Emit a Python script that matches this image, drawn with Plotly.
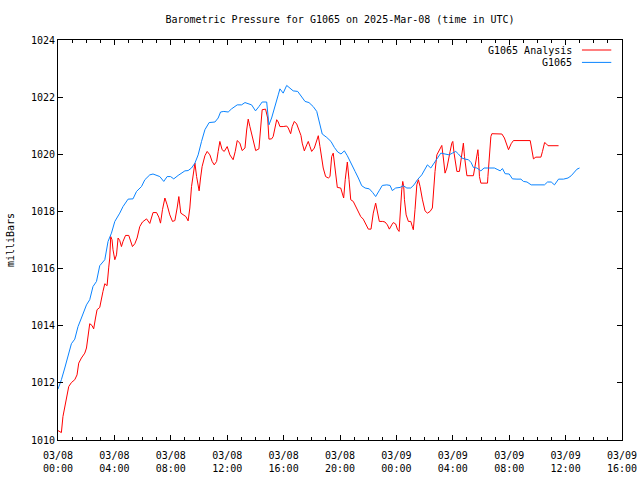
import pandas as pd
import plotly.graph_objects as go

# Hours after 2025-03-08 00:00 UTC and pressure (mb)
analysis_hours = [0.00, 0.24, 0.35, 0.48, 0.60, 0.76, 0.95, 1.19, 1.35, 1.47, 1.66, 1.90, 2.02, 2.13, 2.25, 2.41, 2.53, 2.66, 2.77, 2.96,
                  3.08, 3.19, 3.32, 3.48, 3.60, 3.67, 3.74, 3.83, 3.90, 4.03, 4.15, 4.26, 4.38, 4.50, 4.61, 4.79, 5.02, 5.16, 5.28, 5.45,
                  5.61, 5.80, 5.99, 6.28, 6.51, 6.74, 6.99, 7.15, 7.27, 7.41, 7.58, 7.74, 7.93, 8.12, 8.29, 8.45, 8.57, 8.71, 8.87, 9.07,
                  9.23, 9.35, 9.47, 9.58, 9.71, 9.83, 9.94, 10.01, 10.11, 10.22, 10.42, 10.58, 10.77, 10.93, 11.08, 11.25, 11.36, 11.48, 11.64, 11.79,
                  12.00, 12.19, 12.42, 12.57, 12.71, 12.90, 13.06, 13.26, 13.38, 13.49, 13.61, 13.77, 14.02, 14.25, 14.37, 14.48, 14.72, 14.87, 14.96, 15.15,
                  15.26, 15.39, 15.51, 15.62, 15.74, 15.97, 16.22, 16.33, 16.50, 16.61, 16.76, 16.93, 17.09, 17.23, 17.32, 17.47, 17.64, 17.75, 17.87, 17.99,
                  18.18, 18.35, 18.46, 18.58, 18.70, 18.81, 18.98, 19.17, 19.29, 19.41, 19.52, 19.60, 19.69, 19.81, 20.05, 20.19, 20.26, 20.37, 20.52, 20.64,
                  20.76, 20.94, 21.11, 21.30, 21.47, 21.65, 21.85, 22.01, 22.20, 22.36, 22.53, 22.65, 22.79, 23.03, 23.19, 23.36, 23.50, 23.67, 23.78, 23.95,
                  24.07, 24.19, 24.26, 24.38, 24.45, 24.52, 24.57, 24.69, 24.85, 25.02, 25.13, 25.20, 25.32, 25.45, 25.56, 25.68, 25.84, 26.03, 26.20, 26.39,
                  26.55, 26.62, 26.74, 26.87, 27.05, 27.22, 27.33, 27.45, 27.58, 27.69, 27.81, 27.93, 28.00, 28.09, 28.21, 28.29, 28.47, 28.57, 28.68, 28.75,
                  28.83, 28.92, 29.00, 29.46, 29.58, 29.71, 29.78, 29.82, 29.89, 29.99, 30.46, 30.49, 30.60, 30.70, 30.77, 31.48, 31.66, 31.84, 31.95, 32.14,
                  32.30, 33.49, 33.61, 33.72, 33.89, 34.25, 34.36, 34.51, 34.63, 34.75, 35.50]
analysis_mb = [1010.33, 1010.26, 1010.82, 1011.17, 1011.52, 1011.87, 1012.01, 1012.11, 1012.28, 1012.69, 1012.87, 1013.04, 1013.22, 1013.62, 1014.07, 1014.01, 1013.89, 1014.27, 1014.56, 1014.64,
               1014.97, 1015.20, 1015.47, 1015.40, 1016.05, 1016.37, 1017.12, 1017.01, 1016.66, 1016.31, 1016.48, 1017.07, 1016.98, 1016.77, 1016.95, 1017.16, 1017.16, 1016.95, 1016.77, 1016.87,
               1017.07, 1017.47, 1017.63, 1017.74, 1017.58, 1017.96, 1017.96, 1017.80, 1017.59, 1018.06, 1018.47, 1018.23, 1017.88, 1017.65, 1017.68, 1018.12, 1018.52, 1017.94, 1017.88, 1017.82,
               1017.67, 1018.12, 1018.87, 1019.28, 1019.69, 1019.22, 1018.87, 1018.72, 1019.17, 1019.57, 1019.95, 1020.10, 1019.98, 1019.75, 1019.63, 1019.75, 1020.10, 1020.45, 1020.16, 1020.10,
               1020.27, 1019.98, 1019.81, 1020.10, 1020.48, 1020.39, 1020.13, 1020.22, 1020.85, 1021.23, 1020.97, 1020.62, 1020.13, 1020.19, 1020.92, 1021.56, 1021.58, 1021.27, 1020.53, 1020.54,
               1020.62, 1020.97, 1021.21, 1021.13, 1020.97, 1020.97, 1020.99, 1020.92, 1020.72, 1020.97, 1021.15, 1021.06, 1020.88, 1020.66, 1020.39, 1020.12, 1020.33, 1020.45, 1020.27, 1020.10,
               1020.22, 1020.45, 1020.65, 1020.27, 1019.87, 1019.52, 1019.22, 1019.17, 1019.22, 1019.92, 1020.04, 1019.69, 1019.14, 1018.84, 1018.82, 1018.58, 1018.47, 1019.11, 1019.73, 1019.11,
               1018.41, 1018.35, 1018.17, 1017.94, 1017.82, 1017.73, 1017.53, 1017.38, 1017.38, 1017.94, 1018.29, 1017.94, 1017.65, 1017.65, 1017.63, 1017.53, 1017.38, 1017.53, 1017.61, 1017.56,
               1017.38, 1017.30, 1017.94, 1018.76, 1019.05, 1018.87, 1018.41, 1017.88, 1017.65, 1017.65, 1017.47, 1017.36, 1018.06, 1018.93, 1019.11, 1018.87, 1018.43, 1018.02, 1017.94, 1018.00,
               1018.12, 1018.70, 1019.40, 1019.98, 1020.16, 1020.31, 1019.87, 1019.34, 1019.52, 1019.75, 1020.10, 1020.39, 1020.45, 1020.04, 1019.57, 1019.40, 1019.40, 1019.81, 1020.27, 1020.39,
               1019.92, 1019.46, 1019.25, 1019.25, 1019.60, 1019.98, 1020.16, 1019.92, 1019.22, 1018.99, 1018.99, 1019.22, 1020.10, 1020.62, 1020.72, 1020.71, 1020.57, 1020.33, 1020.16, 1020.37,
               1020.48, 1020.48, 1020.16, 1019.84, 1019.90, 1019.90, 1020.10, 1020.41, 1020.37, 1020.30, 1020.30]

station_hours = [0.00, 0.24, 0.48, 0.71, 0.95, 1.19, 1.42, 1.66, 2.02, 2.25, 2.48, 2.73, 2.96, 3.32, 3.55, 3.79, 4.03, 4.38, 4.61, 4.97,
                 5.32, 5.57, 5.92, 6.16, 6.51, 6.74, 6.99, 7.22, 7.50, 7.74, 7.98, 8.21, 8.52, 8.76, 9.00, 9.23, 9.47, 9.71, 9.94, 10.18,
                 10.42, 10.72, 11.13, 11.36, 11.53, 11.76, 12.07, 12.31, 12.71, 13.02, 13.26, 13.73, 14.01, 14.25, 14.48, 14.80, 14.96, 15.15, 15.39, 15.62,
                 15.74, 15.97, 16.22, 16.45, 16.68, 17.00, 17.28, 17.52, 17.80, 18.10, 18.35, 18.51, 18.74, 19.06, 19.36, 19.60, 19.84, 20.07, 20.31, 20.52,
                 20.76, 21.07, 21.30, 21.54, 21.78, 22.08, 22.32, 22.53, 22.77, 23.00, 23.32, 23.55, 23.71, 23.95, 24.26, 24.49, 24.74, 25.02, 25.25, 25.49,
                 25.80, 26.03, 26.20, 26.44, 26.67, 26.91, 27.15, 27.45, 27.74, 27.97, 28.21, 28.40, 28.64, 28.87, 29.11, 29.30, 29.46, 29.71, 29.99, 30.22,
                 30.53, 30.95, 31.20, 31.36, 31.52, 31.71, 32.00, 32.23, 32.55, 32.83, 33.01, 33.26, 33.56, 33.96, 34.50, 34.72, 34.98, 35.21, 35.50, 35.85,
                 36.17, 36.40, 36.63, 36.81, 36.99]
station_mb = [1011.78, 1012.11, 1012.52, 1012.92, 1013.37, 1013.53, 1013.97, 1014.27, 1014.73, 1014.91, 1015.37, 1015.55, 1016.10, 1016.31, 1016.95, 1017.24, 1017.65, 1017.94, 1018.17, 1018.43,
              1018.44, 1018.70, 1018.87, 1019.11, 1019.28, 1019.31, 1019.26, 1019.22, 1019.05, 1019.22, 1019.22, 1019.14, 1019.26, 1019.34, 1019.42, 1019.43, 1019.52, 1019.69, 1019.98, 1020.45,
              1020.86, 1021.11, 1021.13, 1021.27, 1021.48, 1021.50, 1021.48, 1021.59, 1021.73, 1021.73, 1021.81, 1021.73, 1021.52, 1021.67, 1021.83, 1021.83, 1021.03, 1021.27, 1021.73, 1022.08,
              1022.29, 1022.14, 1022.41, 1022.32, 1022.22, 1022.20, 1022.02, 1021.85, 1021.81, 1021.67, 1021.50, 1021.15, 1020.71, 1020.59, 1020.45, 1020.24, 1020.08, 1020.01, 1020.12, 1019.95,
              1019.69, 1019.40, 1019.17, 1018.90, 1018.82, 1018.79, 1018.66, 1018.52, 1018.72, 1018.91, 1018.93, 1018.91, 1018.73, 1018.82, 1018.84, 1018.90, 1018.82, 1018.82, 1018.93, 1019.11,
              1019.28, 1019.46, 1019.63, 1019.52, 1019.69, 1019.87, 1020.04, 1020.01, 1019.98, 1020.04, 1020.10, 1020.01, 1019.87, 1019.83, 1019.81, 1019.71, 1019.54, 1019.52, 1019.42, 1019.52,
              1019.52, 1019.52, 1019.46, 1019.42, 1019.50, 1019.32, 1019.31, 1019.14, 1019.13, 1019.13, 1019.05, 1019.03, 1018.93, 1018.93, 1018.93, 1019.03, 1019.03, 1018.93, 1019.13, 1019.13,
              1019.17, 1019.25, 1019.40, 1019.48, 1019.52]

start = pd.Timestamp("2025-03-08 00:00")
analysis_t = start + pd.to_timedelta(analysis_hours, unit="h")
station_t = start + pd.to_timedelta(station_hours, unit="h")

series_names = ["G1065 Analysis", "G1065"]
series_colors = ["#ff0000", "#0a84ff"]
title_text = "Barometric Pressure for G1065 on 2025-Mar-08 (time in UTC)"
y_label = "milliBars"

FONT = "DejaVu Sans Mono"

fig = go.Figure()
fig.add_trace(go.Scatter(x=analysis_t, y=analysis_mb, mode="lines", name=series_names[0],
                         line=dict(color=series_colors[0], width=1), showlegend=False))
fig.add_trace(go.Scatter(x=station_t, y=station_mb, mode="lines", name=series_names[1],
                         line=dict(color=series_colors[1], width=1), showlegend=False))

# custom legend (text on left, line sample on right, like gnuplot)
leg_y = [0.975, 0.944]
for i, (nm, col) in enumerate(zip(series_names, series_colors)):
    fig.add_annotation(x=0.915, y=leg_y[i], xref="paper", yref="paper", text=nm, showarrow=False,
                       xanchor="right", yanchor="middle", font=dict(family=FONT, size=10, color="black"))
    fig.add_shape(type="line", xref="paper", yref="paper", x0=0.929, x1=0.981, y0=leg_y[i], y1=leg_y[i],
                  line=dict(color=col, width=1))

fig.add_annotation(x=-0.085, y=0.5, xref="paper", yref="paper", text=y_label, textangle=-90,
                   xanchor="center", yanchor="middle",
                   showarrow=False, font=dict(family=FONT, size=10, color="black"))

fig.update_layout(
    width=640, height=480,
    margin=dict(l=58, r=18, t=40, b=40, autoexpand=False),
    paper_bgcolor="white", plot_bgcolor="white",
    font=dict(family=FONT, size=10, color="black"),
    title=dict(text=title_text, x=0.5, xref="paper", y=0.96, yref="container", yanchor="middle",
               automargin=False, font=dict(family=FONT, size=10, color="black")),
)
fig.update_xaxes(
    type="date", automargin=False,
    range=[pd.Timestamp("2025-03-08 00:00"), pd.Timestamp("2025-03-09 16:00")],
    dtick=4 * 3600 * 1000, tick0="2025-03-08 00:00", tickformat="%m/%d<br>%H:%M",
    ticks="inside", ticklen=5, tickcolor="black", showline=True, linecolor="black", linewidth=1,
    mirror="ticks", showgrid=False, zeroline=False, ticklabelstandoff=6,
    minor=dict(dtick=3600 * 1000, ticks="inside", ticklen=3, tickcolor="black", showgrid=False),
    tickfont=dict(family=FONT, size=10),
)
fig.update_yaxes(
    range=[1010, 1024], dtick=2, tick0=1010, automargin=False,
    ticks="inside", ticklen=5, tickcolor="black", showline=True, linecolor="black", linewidth=1,
    mirror="ticks", showgrid=False, zeroline=False,
    tickfont=dict(family=FONT, size=10),
)

# remove the browser's default 8px page margin so the 640x480 figure fills the window
fig.write_html("out.html", config={"displayModeBar": False},
               post_script="document.body.style.margin='0';document.body.style.overflow='hidden';")
